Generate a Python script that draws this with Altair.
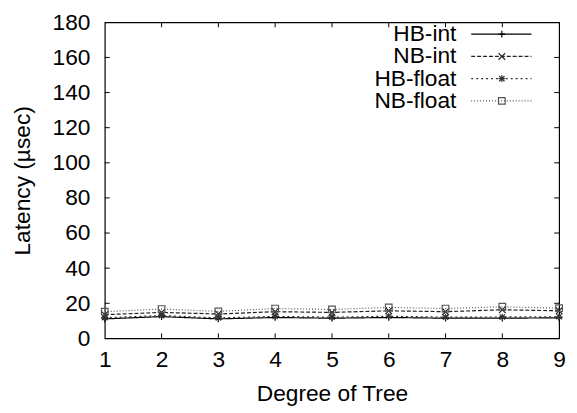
import altair as alt
import pandas as pd

degrees = [1, 2, 3, 4, 5, 6, 7, 8, 9]
series = ["HB-int", "NB-int", "HB-float", "NB-float"]
hb_int = [11.1, 12.4, 11.1, 11.9, 11.5, 11.9, 11.5, 11.5, 11.7]
nb_int = [13.5, 14.8, 13.9, 15.2, 14.8, 15.7, 15.2, 16.3, 15.7]
hb_float = [11.8, 13.0, 11.7, 12.5, 12.1, 12.6, 12.1, 12.2, 12.3]
nb_float = [15.2, 16.7, 15.4, 17.0, 16.5, 17.6, 17.0, 18.0, 17.2]
y_ticks = [0, 20, 40, 60, 80, 100, 120, 140, 160, 180]
x_ticks = [1, 2, 3, 4, 5, 6, 7, 8, 9]

colors = ["#000000", "#222222", "#333333", "#555555"]
dashes = [[1, 0], [4, 2], [2, 3], [1, 2]]
PLUS = "M-1,0L1,0M0,-1L0,1"
CROSS = "M-1,-1L1,1M-1,1L1,-1"
STAR = "M-1,0L1,0M0,-1L0,1M-0.8,-0.8L0.8,0.8M-0.8,0.8L0.8,-0.8"
SQUARE = "M-1,-1L1,-1L1,1L-1,1Z"
shapes = [PLUS, CROSS, STAR, SQUARE]

rows = []
for name, vals in zip(series, [hb_int, nb_int, hb_float, nb_float]):
    for d, v in zip(degrees, vals):
        rows.append({"degree": d, "latency": v, "series": name})
df = pd.DataFrame(rows)

W, H = 460, 320
FONT = "Liberation Sans"
FS = 23

xs = alt.Scale(domain=[1, 9], nice=False)
ys = alt.Scale(domain=[0, 180], nice=False)

x_axis = alt.Axis(values=x_ticks, format="d", title="Degree of Tree", tickSize=0,
                  domain=False, grid=False, labelPadding=10, titlePadding=12,
                  labelOverlap=False, labelFlush=False, labelBound=False)
y_axis = alt.Axis(values=y_ticks, format="d", title="Latency (µsec)", tickSize=0,
                  domain=False, grid=False, labelPadding=15, titlePadding=18,
                  labelOverlap=False, labelFlush=False, labelBound=False)

color = alt.Color("series:N", scale=alt.Scale(domain=series, range=colors), legend=None)
dash = alt.StrokeDash("series:N", scale=alt.Scale(domain=series, range=dashes), legend=None)
shape = alt.Shape("series:N", scale=alt.Scale(domain=series, range=shapes), legend=None)

base = alt.Chart(df)
lines = base.mark_line(strokeWidth=1.2, clip=True).encode(
    x=alt.X("degree:Q", scale=xs, axis=x_axis, title="Degree of Tree"),
    y=alt.Y("latency:Q", scale=ys, axis=y_axis, title="Latency (µsec)"),
    color=color, strokeDash=dash, detail="series:N",
)
points = base.mark_point(filled=False, size=45, strokeWidth=1.2, opacity=1).encode(
    x=alt.X("degree:Q", scale=xs, axis=x_axis, title="Degree of Tree"),
    y=alt.Y("latency:Q", scale=ys, axis=y_axis, title="Latency (µsec)"),
    color=color, shape=shape,
)

ytick_df = pd.DataFrame({"v": y_ticks[1:-1]})
xtick_df = pd.DataFrame({"v": x_ticks[1:-1]})
TL = 5
yenc = alt.Y("v:Q", scale=ys, axis=y_axis, title="Latency (µsec)")
xenc = alt.X("v:Q", scale=xs, axis=x_axis, title="Degree of Tree")
ticks_left = alt.Chart(ytick_df).mark_rule(color="black").encode(
    y=yenc, x=alt.value(0), x2=alt.value(TL))
ticks_right = alt.Chart(ytick_df).mark_rule(color="black").encode(
    y=yenc, x=alt.value(W - TL), x2=alt.value(W))
ticks_bottom = alt.Chart(xtick_df).mark_rule(color="black").encode(
    x=xenc, y=alt.value(H - TL), y2=alt.value(H))
ticks_top = alt.Chart(xtick_df).mark_rule(color="black").encode(
    x=xenc, y=alt.value(0), y2=alt.value(TL))

legend_layers = []
for i, name in enumerate(series):
    ly = 12 + i * 22.5
    ldf = pd.DataFrame({"series": [name]})
    lb = alt.Chart(ldf)
    legend_layers.append(lb.mark_text(align="right", baseline="middle", fontSize=FS,
                                      font=FONT, color="black").encode(
        text="series:N", x=alt.value(356), y=alt.value(ly)))
    legend_layers.append(lb.mark_rule(strokeWidth=1.2, strokeDash=dashes[i],
                                      color=colors[i]).encode(
        x=alt.value(371), x2=alt.value(432), y=alt.value(ly)))
    legend_layers.append(lb.mark_point(filled=False, size=45, strokeWidth=1.2, opacity=1,
                                       shape=shapes[i], color=colors[i]).encode(
        x=alt.value(402), y=alt.value(ly)))

chart = alt.layer(lines, points, ticks_left, ticks_right, ticks_bottom, ticks_top,
                  *legend_layers).properties(
    width=W, height=H,
    autosize=alt.AutoSizeParams(type="none"),
    padding={"left": 98, "top": 12, "right": 10, "bottom": 70},
).configure_view(stroke="black", strokeWidth=1.2).configure_axis(
    labelFont=FONT, titleFont=FONT, labelFontSize=FS, titleFontSize=FS,
    labelColor="black", titleColor="black", titleFontWeight="normal",
    labelOverlap=False,
)

chart.save("out.html", embed_options={"renderer": "svg", "actions": False})
